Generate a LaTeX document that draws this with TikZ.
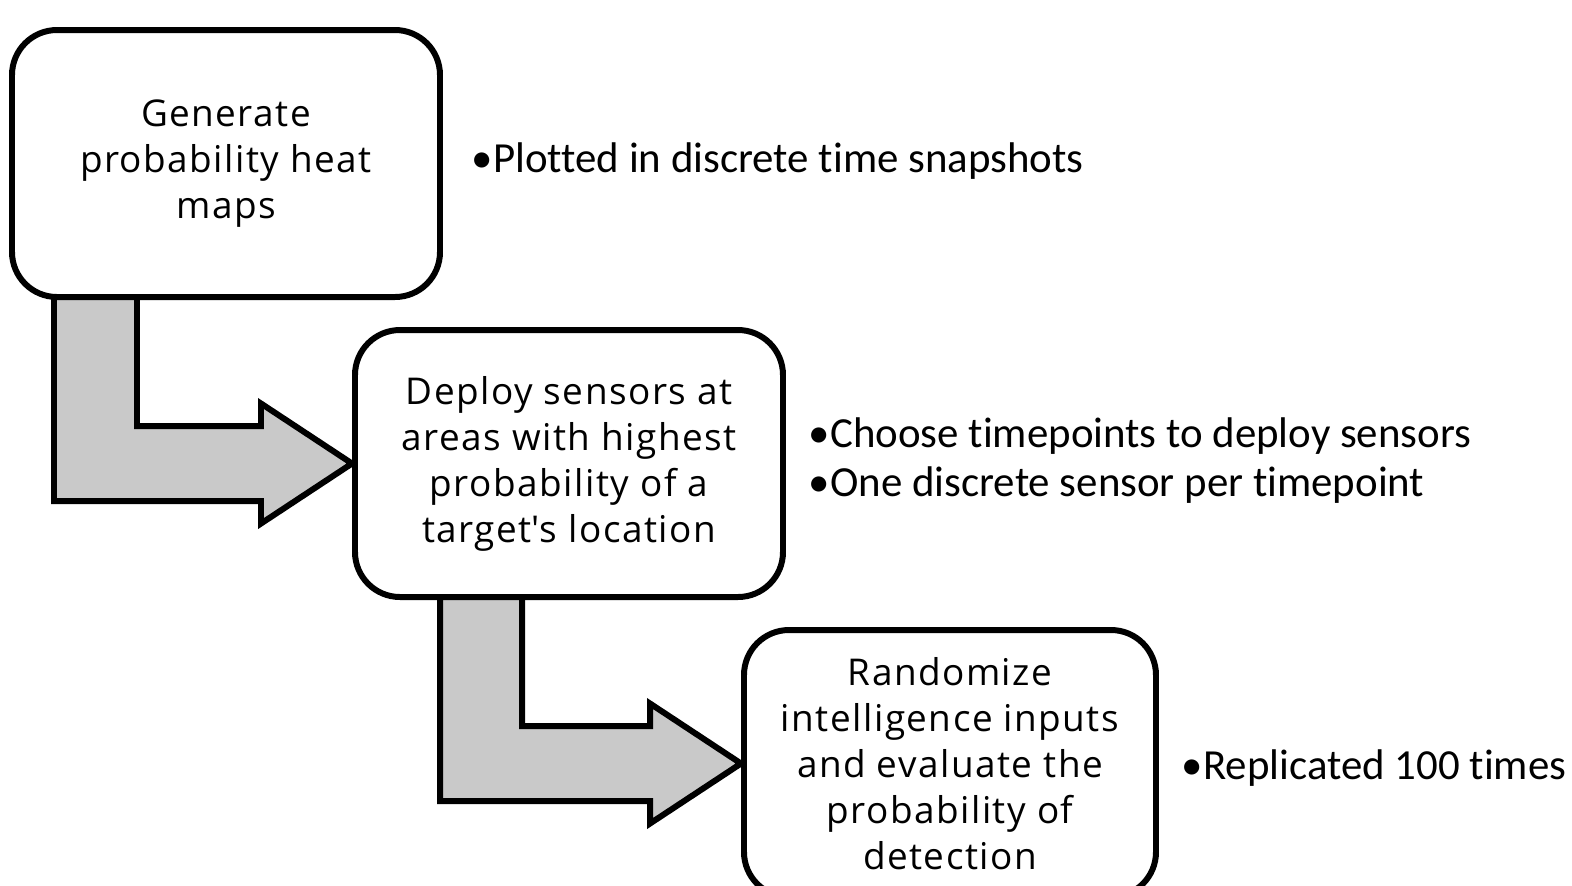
\documentclass[tikz,border=0pt]{standalone}
\usepackage{fontspec}
\setmainfont[Ligatures=NoCommon]{Carlito}
\newfontfamily\boxfont[LetterSpace=4]{Open Sans}
\usepackage{tikz}
\usetikzlibrary{backgrounds}
\usetikzlibrary{positioning}
\usetikzlibrary{calc}
\tikzset{every picture/.style={line width=1.7pt}}
\begin{document}
\begin{tikzpicture}[stepbox/.style={draw, fill=white, rounded corners=0.45cm, minimum width=4.28cm, minimum height=2.67cm, align=center, inner sep=0pt, font=\boxfont\fontsize{10.5}{13.1}\selectfont},
  note/.style={align=left, inner sep=0pt, font=\fontsize{12.2}{13.7}\selectfont},
  bent/.style={draw, fill=black!21, line width=1.7pt}]
\path[use as bounding box, clip] (0,0) rectangle (15.72,-8.85);
\node (gen) at (2.26,-1.635) [stepbox] {Generate\\probability heat\\maps};
\node (dep) at ($(gen)+(3.43cm, -3cm)$) [stepbox] {Deploy sensors at\\areas with highest\\probability of a\\target\textquotesingle s location};
\node (rnd) at ($(dep)+(3.81cm, -3cm)$) [stepbox, minimum width=4.12cm] {Randomize\\intelligence inputs\\and evaluate the\\probability of\\detection};
\node (n1) [note, right=0.26cm of gen, yshift=0.02cm] {•Plotted in discrete time snapshots};
\node (n2) [note, right=0.2cm of dep, yshift=0.03cm] {•Choose timepoints to deploy sensors\\•One discrete sensor per timepoint};
\node (n3) [note, right=0.2cm of rnd, yshift=-0.05cm] {•Replicated 100 times};
\begin{scope}[on background layer]
\draw[bent] ($(gen.south west)+(0.45cm,0.1cm)$) |- ($(dep.west)+(-0.91cm,-0.375cm)$) -- ++(0,-0.225cm) -- (dep.west) -- ++(-0.91cm,0.6cm) -- ++(0,-0.225cm) -| ($(gen.south west)+(1.28cm,0.1cm)$) -- cycle;
\draw[bent] ($(dep.south west)+(0.88cm,0.1cm)$) |- ($(rnd.west)+(-0.91cm,-0.375cm)$) -- ++(0,-0.225cm) -- (rnd.west) -- ++(-0.91cm,0.6cm) -- ++(0,-0.225cm) -| ($(dep.south west)+(1.7cm,0.1cm)$) -- cycle;
\end{scope}
\end{tikzpicture}
\end{document}
